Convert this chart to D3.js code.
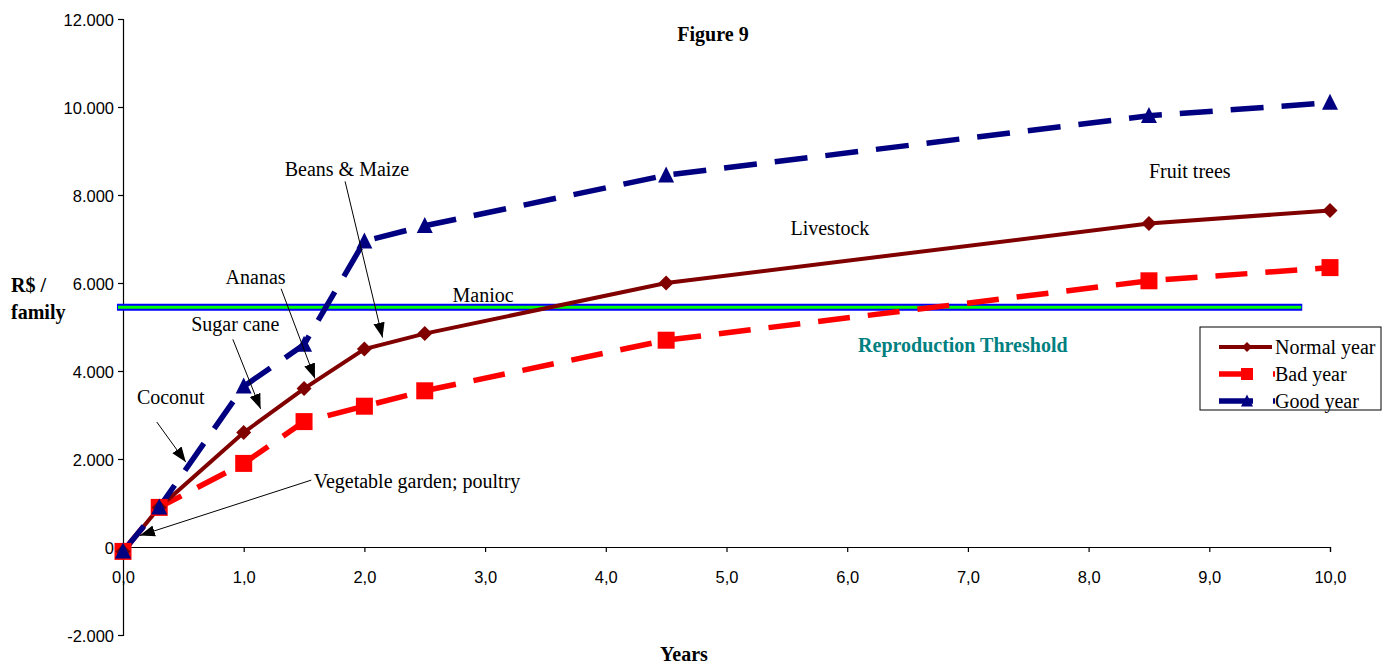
<!DOCTYPE html>
<html>
<head>
<meta charset="utf-8">
<script src="https://cdn.jsdelivr.net/npm/d3@7"></script>
<style>
  html, body { margin: 0; padding: 0; background: #fff; }
  svg { display: block; }
</style>
</head>
<body>
<svg id="chart" width="1392" height="666"></svg>
<script>
// Income per family over the settlement years, three scenarios
const years = [0, 0.3, 1.0, 1.5, 2.0, 2.5, 4.5, 8.5, 10.0];
const normalYear = [-100, 900, 2600, 3600, 4500, 4850, 6000, 7350, 7650];
const badYear    = [-100, 900, 1900, 2850, 3200, 3550, 4700, 6050, 6350];
const goodYear   = [-100, 900, 3650, 4600, 6950, 7300, 8450, 9800, 10100];
const threshold = 5450;
const thresholdSpan = [-0.05, 9.77];
const xTicks = [0, 1, 2, 3, 4, 5, 6, 7, 8, 9, 10];
const yTicks = [-2000, 0, 2000, 4000, 6000, 8000, 10000, 12000];

// Activity annotations: label position (left edge, vertical centre) and arrow from/to, in data units
const notes = [
  { text: "Coconut",                   lx: 0.115, ly: 3400, from: [0.28, 2840], to: [0.52, 1930] },
  { text: "Sugar cane",                lx: 0.565, ly: 5060, from: [0.91, 4720], to: [1.14, 3140] },
  { text: "Ananas",                    lx: 0.85,  ly: 6140, from: [1.31, 5870], to: [1.59, 3830] },
  { text: "Beans & Maize",             lx: 1.34,  ly: 8590, from: [1.84, 8310], to: [2.15, 4760] },
  { text: "Vegetable garden; poultry", lx: 1.58,  ly: 1500, from: [1.56, 1520], to: [0.14, 260] }
];
const plainLabels = [
  { text: "Manioc",      x: 2.73, y: 5720 },
  { text: "Livestock",   x: 5.53, y: 7250 },
  { text: "Fruit trees", x: 8.5,  y: 8540 }
];

const svg = d3.select("#chart");
const x = d3.scaleLinear().domain([0, 10]).range([123, 1330]);
const y = d3.scaleLinear().domain([-2000, 12000]).range([635, 19]);

const fmtY = v => v === 0 ? "0" : (v < 0 ? "-" : "") + d3.format(",")(Math.abs(v)).replace(/,/g, ".");
const fmtX = v => v.toFixed(1).replace(".", ",");
const sans = "Liberation Sans, Arial, sans-serif";
const serif = "Liberation Serif, Times New Roman, serif";

// Axes
const xAxis = svg.append("g").attr("transform", `translate(0,${y(0)})`)
  .call(d3.axisBottom(x).tickValues(xTicks).tickFormat(fmtX).tickSizeOuter(0).tickSize(5));
xAxis.selectAll("text").attr("y", 30).attr("dy", "0.35em");
const yAxis = svg.append("g").attr("transform", `translate(${x(0)},0)`)
  .call(d3.axisLeft(y).tickValues(yTicks).tickFormat(fmtY).tickSizeOuter(0).tickSize(5));
yAxis.selectAll("text").attr("x", -9).attr("dy", "0.38em");
[xAxis, yAxis].forEach(a => {
  a.select(".domain").attr("stroke", "#000").attr("stroke-width", 1.2);
  a.selectAll(".tick line").attr("stroke", "#000").attr("stroke-width", 1.2);
  a.selectAll("text").attr("font-family", sans).attr("font-size", 16.5).attr("fill", "#000");
});

// Reproduction threshold: blue band with green core
svg.append("line")
  .attr("x1", x(thresholdSpan[0])).attr("x2", x(thresholdSpan[1]))
  .attr("y1", y(threshold)).attr("y2", y(threshold))
  .attr("stroke", "#0000ff").attr("stroke-width", 7);
svg.append("line")
  .attr("x1", x(thresholdSpan[0]) + 1).attr("x2", x(thresholdSpan[1]) - 1)
  .attr("y1", y(threshold)).attr("y2", y(threshold))
  .attr("stroke", "#00ff00").attr("stroke-width", 3);

const line = d3.line().x(d => x(d[0])).y(d => y(d[1]));
const series = [
  { name: "Normal year", values: normalYear, color: "#800000", width: 4,   dash: null,    marker: "diamond",  size: 15 },
  { name: "Bad year",    values: badYear,    color: "#ff0000", width: 5.5, dash: "32,18", marker: "square",   size: 17 },
  { name: "Good year",   values: goodYear,   color: "#000080", width: 5.5, dash: "33,18", marker: "triangle", size: 16 }
];

function markerPath(type, s) {
  if (type === "diamond") return `M0,${-s/2}L${s/2},0L0,${s/2}L${-s/2},0Z`;
  if (type === "square") return `M${-s/2},${-s/2}H${s/2}V${s/2}H${-s/2}Z`;
  return `M0,${-s*0.55}L${s/2},${s*0.45}L${-s/2},${s*0.45}Z`;
}

// Bad year underneath, normal year, good year on top
const drawOrder = [series[1], series[0], series[2]];
drawOrder.forEach(s => {
  const pts = years.map((yr, i) => [yr, s.values[i]]);
  svg.append("path").datum(pts).attr("d", line)
    .attr("fill", "none").attr("stroke", s.color).attr("stroke-width", s.width)
    .attr("stroke-dasharray", s.dash);
});
drawOrder.forEach(s => {
  const pts = years.map((yr, i) => [yr, s.values[i]]);
  svg.append("g").selectAll("path").data(pts).join("path")
    .attr("transform", d => `translate(${x(d[0])},${y(d[1])})`)
    .attr("d", markerPath(s.marker, s.size))
    .attr("fill", s.color);
});

// Arrowhead
svg.append("defs").append("marker")
  .attr("id", "arrow").attr("viewBox", "0 0 10 10")
  .attr("refX", 10).attr("refY", 5)
  .attr("markerWidth", 15).attr("markerHeight", 15)
  .attr("markerUnits", "userSpaceOnUse")
  .attr("orient", "auto")
  .append("path").attr("d", "M0,1.2L10,5L0,8.8Z").attr("fill", "#000");

notes.forEach(n => {
  svg.append("text").attr("x", x(n.lx)).attr("y", y(n.ly)).attr("dy", "0.35em")
    .attr("font-family", serif).attr("font-size", 20).attr("fill", "#000").text(n.text);
  svg.append("line")
    .attr("x1", x(n.from[0])).attr("y1", y(n.from[1]))
    .attr("x2", x(n.to[0])).attr("y2", y(n.to[1]))
    .attr("stroke", "#000").attr("stroke-width", 1)
    .attr("marker-end", "url(#arrow)");
});
plainLabels.forEach(l => {
  svg.append("text").attr("x", x(l.x)).attr("y", y(l.y)).attr("dy", "0.35em")
    .attr("font-family", serif).attr("font-size", 20).attr("fill", "#000").text(l.text);
});

svg.append("text").attr("x", x(6.09)).attr("y", y(4590)).attr("dy", "0.35em")
  .attr("font-family", serif).attr("font-size", 20).attr("font-weight", "bold")
  .attr("fill", "#008080").text("Reproduction Threshold");

// Titles
svg.append("text").attr("x", 713).attr("y", 34).attr("dy", "0.35em").attr("text-anchor", "middle")
  .attr("font-family", serif).attr("font-size", 20).attr("font-weight", "bold").text("Figure 9");
svg.append("text").attr("x", 684).attr("y", 654).attr("dy", "0.35em").attr("text-anchor", "middle")
  .attr("font-family", serif).attr("font-size", 20).attr("font-weight", "bold").text("Years");
const yl = svg.append("text").attr("font-family", serif).attr("font-size", 20).attr("font-weight", "bold");
yl.append("tspan").attr("x", 11).attr("y", 285).attr("dy", "0.35em").text("R$ /");
yl.append("tspan").attr("x", 11).attr("y", 312).attr("dy", "0.35em").text("family");

// Legend
const lg = svg.append("g").attr("transform", "translate(1200,327)");
lg.append("rect").attr("width", 181).attr("height", 83)
  .attr("fill", "#fff").attr("stroke", "#000").attr("stroke-width", 1);
series.forEach((s, i) => {
  const cy = 20 + i * 27;
  lg.append("line").attr("x1", 19).attr("x2", s.dash ? 75 : 72).attr("y1", cy).attr("y2", cy)
    .attr("stroke", s.color).attr("stroke-width", s.width)
    .attr("stroke-dasharray", s.dash ? "34,20" : null);
  lg.append("path").attr("transform", `translate(47,${cy})`)
    .attr("d", markerPath(s.marker, s.marker === "diamond" ? 10 : 12)).attr("fill", s.color);
  lg.append("text").attr("x", 75).attr("y", cy).attr("dy", "0.35em")
    .attr("font-family", serif).attr("font-size", 20).attr("fill", "#000").text(s.name);
});
</script>
</body>
</html>
